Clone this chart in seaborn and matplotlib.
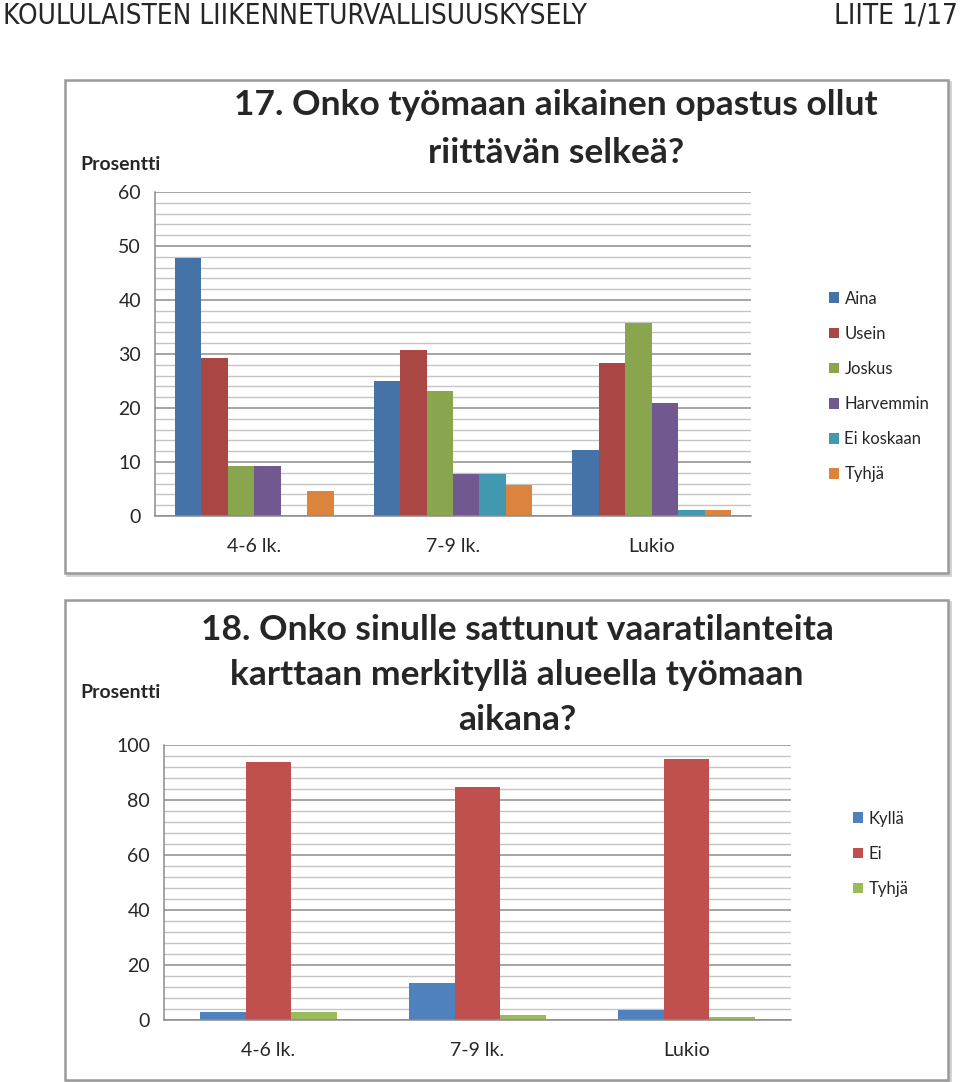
import pandas as pd
import matplotlib.pyplot as plt
import seaborn as sns
from matplotlib.patches import Rectangle

# question 17 data
groups = ["4-6 lk.", "7-9 lk.", "Lukio"]
answers17 = ["Aina", "Usein", "Joskus", "Harvemmin", "Ei koskaan", "Tyhjä"]
aina = [47.7, 25.0, 12.3]
usein = [29.2, 30.8, 28.4]
joskus = [9.2, 23.1, 35.8]
harvemmin = [9.2, 7.7, 21.0]
ei_koskaan = [0.0, 7.7, 1.2]
tyhja17 = [4.6, 5.8, 1.2]

# question 18 data
answers18 = ["Kyllä", "Ei", "Tyhjä"]
kylla = [3.0, 13.5, 3.7]
ei = [93.8, 84.7, 95.0]
tyhja18 = [3.0, 1.8, 1.2]

colors17 = ["#4572A7", "#AA4643", "#89A54E", "#71588F", "#4198AF", "#DB843D"]
colors18 = ["#4F81BD", "#C0504D", "#9BBB59"]

rows = []
for name, vals in zip(answers17, [aina, usein, joskus, harvemmin, ei_koskaan, tyhja17]):
    for g, v in zip(groups, vals):
        rows.append({"ryhma": g, "vastaus": name, "prosentti": v})
df17 = pd.DataFrame(rows)

rows = []
for name, vals in zip(answers18, [kylla, ei, tyhja18]):
    for g, v in zip(groups, vals):
        rows.append({"ryhma": g, "vastaus": name, "prosentti": v})
df18 = pd.DataFrame(rows)

sns.set_style("white")
plt.rcParams["font.family"] = ["Lato", "DejaVu Sans"]

W, H = 960, 1082
fig = plt.figure(figsize=(9.6, 10.82), dpi=100)


def fx(px):
    return px / W


def fy(py):
    return 1 - py / H


# panel frames (behind the axes)
for (x0, y0, x1, y1) in [(65, 80, 948, 573), (65, 600, 948, 1080)]:
    fig.patches.append(Rectangle((fx(x0 + 2), fy(y1 + 2)), fx(x1 - x0), (y1 - y0) / H,
                                 transform=fig.transFigure, facecolor="none",
                                 edgecolor="#d0d0d0", lw=2, zorder=-3))
    fig.patches.append(Rectangle((fx(x0), fy(y1)), fx(x1 - x0), (y1 - y0) / H,
                                 transform=fig.transFigure, facecolor="white",
                                 edgecolor="#9a9a9a", lw=1.8, zorder=-2))

fig.text(fx(3), fy(24), "KOULULAISTEN LIIKENNETURVALLISUUSKYSELY", fontsize=20,
         family=["Liberation Sans Narrow", "DejaVu Sans"], fontstretch="condensed",
         va="baseline", ha="left")
fig.text(fx(958), fy(24), "LIITE 1/17", fontsize=20,
         family=["Liberation Sans Narrow", "DejaVu Sans"], fontstretch="condensed",
         va="baseline", ha="right")


def style_axes(ax, ymax, major, minor, left_px, right_px, top_px, bottom_px):
    ax.set_position([fx(left_px), fy(bottom_px), fx(right_px - left_px),
                     (bottom_px - top_px) / H])
    ax.patch.set_alpha(0)
    ax.set_ylim(0, ymax)
    ax.set_xlim(-0.5, 2.5)
    ax.set_yticks(range(0, ymax + 1, major))
    ax.set_yticks(range(0, ymax + 1, minor), minor=True)
    ax.yaxis.grid(True, which="major", color="#8c8c8c", lw=1.1)
    ax.yaxis.grid(True, which="minor", color="#c4c4c4", lw=1.0)
    ax.set_axisbelow(True)
    ax.set_xticks([0, 1, 2])
    ax.set_xticklabels(groups, fontsize=14)
    ax.set_xticks([-0.5, 0.5, 1.5, 2.5], minor=True)
    ax.tick_params(axis="x", which="major", length=0, pad=16)
    ax.tick_params(axis="x", which="minor", length=6, color="#8c8c8c", width=1)
    ax.tick_params(axis="y", which="major", length=6, color="#8c8c8c", width=1,
                   labelsize=14, pad=4)
    ax.tick_params(axis="y", which="minor", length=0)
    for s in ["top", "right"]:
        ax.spines[s].set_visible(False)
    for s in ["left", "bottom"]:
        ax.spines[s].set_color("#8c8c8c")
        ax.spines[s].set_linewidth(1.1)
    ax.set_xlabel("")
    ax.set_ylabel("")


# chart 17
ax1 = fig.add_axes([0.1, 0.5, 0.6, 0.3])
sns.barplot(data=df17, x="ryhma", y="prosentti", hue="vastaus", hue_order=answers17,
            palette=colors17, width=0.8, saturation=1, linewidth=0, ax=ax1, legend=True)
style_axes(ax1, 60, 10, 2, 155, 751, 192, 516)
ax1.legend(loc="upper left", bbox_to_anchor=(fx(822), fy(284)), bbox_transform=fig.transFigure,
           frameon=False, fontsize=12, handlelength=0.6, handleheight=0.6,
           handletextpad=0.35, labelspacing=1.15, borderaxespad=0)
fig.text(fx(556), fy(105), "17. Onko työmaan aikainen opastus ollut", fontsize=25.5,
         fontweight="bold", ha="center", va="center")
fig.text(fx(556), fy(153), "riittävän selkeä?", fontsize=25.5,
         fontweight="bold", ha="center", va="center")
fig.text(fx(120), fy(164), "Prosentti", fontsize=14, fontweight="bold",
         ha="center", va="center")

# chart 18
ax2 = fig.add_axes([0.1, 0.05, 0.6, 0.3])
sns.barplot(data=df18, x="ryhma", y="prosentti", hue="vastaus", hue_order=answers18,
            palette=colors18, width=0.66, saturation=1, linewidth=0, ax=ax2, legend=True)
style_axes(ax2, 100, 20, 4, 164, 791, 745, 1020)
ax2.legend(loc="upper left", bbox_to_anchor=(fx(846), fy(804)), bbox_transform=fig.transFigure,
           frameon=False, fontsize=12, handlelength=0.6, handleheight=0.6,
           handletextpad=0.35, labelspacing=1.15, borderaxespad=0)
for i, line in enumerate(["18. Onko sinulle sattunut vaaratilanteita",
                          "karttaan merkityllä alueella työmaan", "aikana?"]):
    fig.text(fx(517), fy(630 + 45 * i), line, fontsize=25.5, fontweight="bold",
             ha="center", va="center")
fig.text(fx(120), fy(692), "Prosentti", fontsize=14, fontweight="bold",
         ha="center", va="center")

fig.savefig("out.png", dpi=100)
